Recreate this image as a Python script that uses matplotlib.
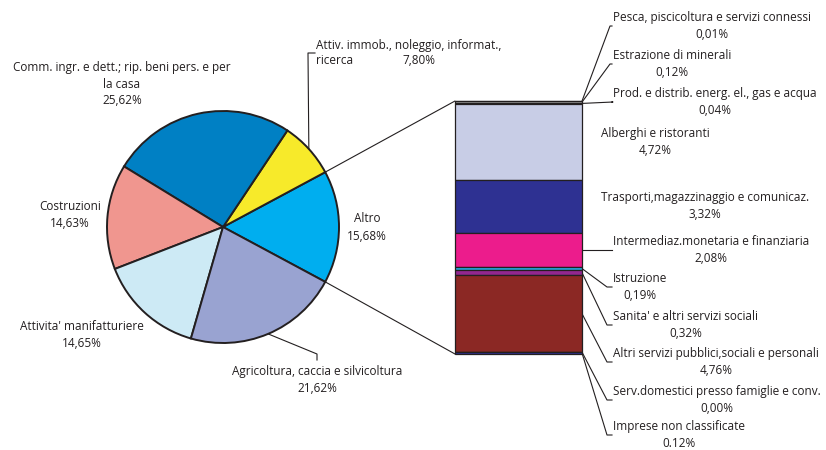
import numpy as np
import matplotlib

matplotlib.use("Agg")
import matplotlib.pyplot as plt
from matplotlib.patches import ConnectionPatch

plt.rcParams["font.family"] = ["Open Sans", "DejaVu Sans"]
FONT_SIZE = 8.5
EDGE = "#231F20"

# pie data (counter-clockwise, starting with "Altro" centred on the right)
pie_labels = [
    "Altro",
    "Attiv. immob., noleggio, informat., ricerca",
    "Comm. ingr. e dett.; rip. beni pers. e per\nla casa",
    "Costruzioni",
    "Attivita' manifatturiere",
    "Agricoltura, caccia e silvicoltura",
]
pie_values = [15.68, 7.80, 25.62, 14.63, 14.65, 21.62]
pie_pct_text = ["15,68%", "7,80%", "25,62%", "14,63%", "14,65%", "21,62%"]
pie_colors = ["#00AEEF", "#F7EA2A", "#0080C4", "#F0968F", "#CDEAF5", "#99A3D1"]

# breakdown of "Altro" (top to bottom in the bar)
bar_labels = [
    "Pesca, piscicoltura e servizi connessi",
    "Estrazione di minerali",
    "Prod. e distrib. energ. el., gas e acqua",
    "Alberghi e ristoranti",
    "Trasporti,magazzinaggio e comunicaz.",
    "Intermediaz.monetaria e finanziaria",
    "Istruzione",
    "Sanita' e altri servizi sociali",
    "Altri servizi pubblici,sociali e personali",
    "Serv.domestici presso famiglie e conv.",
    "Imprese non classificate",
]
bar_values = [0.01, 0.12, 0.04, 4.72, 3.32, 2.08, 0.19, 0.32, 4.76, 0.00, 0.12]
bar_pct_text = ["0,01%", "0,12%", "0,04%", "4,72%", "3,32%", "2,08%",
                "0,19%", "0,32%", "4,76%", "0,00%", "0.12%"]
bar_colors = ["#5B9BD5", "#A6A6A6", "#F7EA2A", "#C8CDE6", "#2E3192", "#EC1C8C",
              "#27AAE1", "#92278F", "#8B2824", "#6D6E71", "#2E3192"]

W, H = 826, 450
fig = plt.figure(figsize=(W / 100, H / 100), dpi=100)

# overlay axes in pixel coordinates for labels
ov = fig.add_axes([0, 0, 1, 1])
ov.set_xlim(0, W)
ov.set_ylim(H, 0)
ov.axis("off")


def to_px(ax, x, y):
    disp = ax.transData.transform((x, y))
    return ov.transData.inverted().transform(disp)


# pie
cx, cy, R = 223, 227, 116
lim = 1.25
ax1 = fig.add_axes([(cx - R * lim) / W, (H - cy - R * lim) / H,
                    2 * R * lim / W, 2 * R * lim / H])
start = -pie_values[0] / 100 * 360 / 2
wedges, _ = ax1.pie(pie_values, colors=pie_colors, startangle=start,
                    counterclock=True,
                    wedgeprops=dict(edgecolor=EDGE, linewidth=1.4))
ax1.set_xlim(-lim, lim)
ax1.set_ylim(-lim, lim)
ax1.set_aspect("equal")
ax1.axis("off")

# bar
bx0, bx1, by0, by1 = 455, 582, 101, 354
ax2 = fig.add_axes([bx0 / W, (H - by1) / H, (bx1 - bx0) / W, (by1 - by0) / H])
total = sum(bar_values)
bottoms = np.concatenate([[0], np.cumsum(bar_values)[:-1]])
for v, b, c in zip(bar_values, bottoms, bar_colors):
    ax2.bar(0.5, v, width=1.0, bottom=b, color=c, edgecolor=EDGE, linewidth=0.9,
            clip_on=False)
ax2.set_xlim(0, 1)
ax2.set_ylim(total, 0)
ax2.axis("off")

# connection lines pie -> bar
w_altro = wedges[0]
for ang, ybar in [(w_altro.theta2, 0), (w_altro.theta1, total)]:
    a = np.deg2rad(ang)
    con = ConnectionPatch(xyA=(np.cos(a), np.sin(a)), coordsA=ax1.transData,
                          xyB=(0, ybar), coordsB=ax2.transData,
                          color=EDGE, linewidth=0.8)
    fig.add_artist(con)

txt = dict(fontsize=FONT_SIZE, color="#231F20", va="center")
LS = 1.4

# pie labels: (center x, center y)
pie_label_pos = [(367, 227.5), None, (122, 84), (70, 215), (82, 335), (317, 380)]
for lab, pct, pos in zip(pie_labels, pie_pct_text, pie_label_pos):
    if pos is None:
        continue
    ov.text(pos[0], pos[1], lab + "\n" + pct, ha="center", linespacing=LS, **txt)
ov.text(316, 45, "Attiv. immob., noleggio, informat.,", ha="left", **txt)
ov.text(316, 61, "ricerca", ha="left", **txt)
ov.text(402, 61, pie_pct_text[1], ha="left", **txt)

# pie leader lines (from wedge mid-angle on the rim)
for i, pts in [(1, [(308, 53), (315, 53)]), (5, [(317, 354), (317, 360)])]:
    w = wedges[i]
    a = np.deg2rad((w.theta1 + w.theta2) / 2)
    x0, y0 = to_px(ax1, np.cos(a), np.sin(a))
    xs = [x0] + [p[0] for p in pts]
    ys = [y0] + [p[1] for p in pts]
    ov.plot(xs, ys, color=EDGE, linewidth=0.8)

# bar labels: (block center y, text left x, elbow x or None)
label_pos = [
    (26, 613, 610),
    (64, 613, 610),
    (102, 613, 613),
    (142, 601, None),
    (206, 601, None),
    (250, 613, 582),
    (287, 613, 607),
    (325, 613, 607),
    (362, 613, 607),
    (400, 613, 607),
    (435, 613, 607),
]
for i, (lab, pct) in enumerate(zip(bar_labels, bar_pct_text)):
    ly, lx, ex = label_pos[i]
    ov.text(lx, ly, lab + "\n" + pct, ha="left", linespacing=LS,
            multialignment="center", **txt)
    if ex is not None:
        mid = bottoms[i] + bar_values[i] / 2
        x0, y0 = to_px(ax2, 1, mid)
        ov.plot([x0, ex, lx - 1], [y0, ly, ly], color=EDGE, linewidth=0.8)

fig.savefig("out.png", dpi=100)
